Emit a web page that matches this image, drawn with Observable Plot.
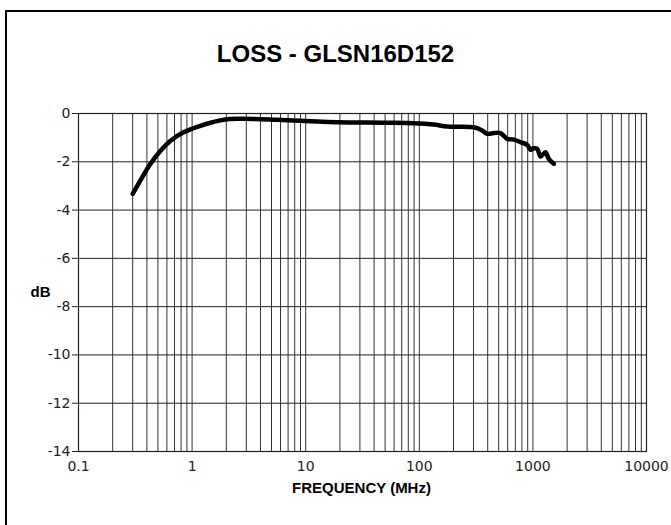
<!DOCTYPE html>
<html>
<head>
<meta charset="utf-8">
<script src="https://cdn.jsdelivr.net/npm/d3@7"></script>
<script src="https://cdn.jsdelivr.net/npm/@observablehq/plot@0.6"></script>
<style>
  html, body { margin: 0; padding: 0; background: #fff; }
  #wrap { position: relative; width: 671px; height: 525px; overflow: hidden; }
  #border { position: absolute; left: 5px; top: 10px; right: -5px; bottom: -5px;
            border-left: 2.5px solid #000; border-top: 2.5px solid #000; }
  #chart { position: absolute; left: 0; top: 0; }
</style>
</head>
<body>
<div id="wrap"><div id="border"></div><div id="chart"></div></div>
<script>
// Data
const freqMHz = [0.3, 0.35, 0.43, 0.53, 0.65, 0.85, 1.2, 1.9, 2.7, 5.6, 11, 19, 50, 90, 134, 176, 302, 358, 396, 453, 519, 594, 680, 778, 891, 953, 1019, 1090, 1167, 1291, 1380, 1528];
const lossDb  = [-3.33, -2.78, -2.08, -1.53, -1.12, -0.77, -0.50, -0.26, -0.22, -0.26, -0.32, -0.36, -0.38, -0.40, -0.46, -0.54, -0.57, -0.70, -0.84, -0.81, -0.81, -1.05, -1.08, -1.19, -1.30, -1.50, -1.44, -1.46, -1.78, -1.60, -1.88, -2.08];

const xTicks = [0.1, 1, 10, 100, 1000, 10000];
const xTickLabels = ["0.1", "1", "10", "100", "1000", "10000"];
const yTicks = [0, -2, -4, -6, -8, -10, -12, -14];
const title = "LOSS - GLSN16D152";
const xLabel = "FREQUENCY (MHz)";
const yLabel = "dB";

const data = freqMHz.map((f, i) => ({f, db: lossDb[i]}));
const minorX = [];
for (let e = -1; e < 4; e++) for (let m = 1; m <= 9; m++) minorX.push(+(m * Math.pow(10, e)).toPrecision(3));
minorX.push(10000);

const chart = Plot.plot({
  width: 671,
  height: 525,
  marginLeft: 78,
  marginRight: 25,
  marginTop: 113,
  marginBottom: 74,
  style: {fontFamily: "DejaVu Sans", fontSize: "14px", color: "#000", background: "transparent"},
  x: {type: "log", domain: [0.1, 10000]},
  y: {domain: [-14, 0]},
  marks: [
    Plot.ruleX(minorX, {stroke: "#333", strokeWidth: 1}),
    Plot.ruleY(yTicks, {stroke: "#222", strokeWidth: 1}),
    Plot.frame({stroke: "#222", strokeWidth: 1.2}),
    Plot.axisX({ticks: xTicks, tickFormat: (d, i) => xTickLabels[xTicks.indexOf(d)], tickSize: 0, tickPadding: 10, label: null, fontSize: 14, fill: "#222"}),
    Plot.axisY({ticks: yTicks, tickFormat: d => String(d), tickSize: 6, tickPadding: 2, label: null, fontSize: 14, fill: "#222", stroke: "#222"}),
    Plot.line(data, {x: "f", y: "db", stroke: "#000", strokeWidth: 4.5, curve: "catmull-rom", strokeLinecap: "round", strokeLinejoin: "round"}),
    Plot.text([title], {frameAnchor: "top", dx: -27, dy: -59, lineAnchor: "middle", fontFamily: "Liberation Sans", fontWeight: "bold", fontSize: 24, fill: "#000"}),
    Plot.text([xLabel], {frameAnchor: "bottom", dx: -1, dy: 37, lineAnchor: "middle", fontFamily: "Liberation Sans", fontWeight: "bold", fontSize: 15, fill: "#000"}),
    Plot.text([yLabel], {frameAnchor: "left", dx: -48, dy: 10, lineAnchor: "middle", fontFamily: "Liberation Sans", fontWeight: "bold", fontSize: 15, fill: "#000"})
  ]
});
document.getElementById("chart").appendChild(chart);
</script>
</body>
</html>
